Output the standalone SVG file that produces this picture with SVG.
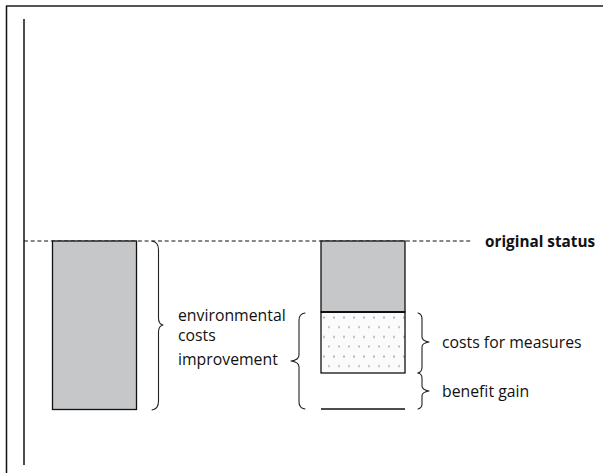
<svg xmlns="http://www.w3.org/2000/svg" width="603" height="473" viewBox="0 0 603 473">
  <defs>
    <style>
      .lbl { font-family: "Open Sans", "Liberation Sans", sans-serif; font-size: 15.8px; fill: #111; }
      .bold { font-weight: bold; font-size: 15.3px; }
      .bar { fill: #c6c7c9; stroke: #111; stroke-width: 1.3; }
      .brace { fill: none; stroke: #222; stroke-width: 1.1; stroke-linecap: round; stroke-linejoin: round; }
      .edge { fill: none; stroke: #111; }
    </style>
    <pattern id="dots" x="0" y="0" width="10" height="19.5" patternUnits="userSpaceOnUse">
      <circle cx="4" cy="5.5" r="1" fill="#aaaaaa"/>
      <circle cx="9" cy="15.2" r="1" fill="#aaaaaa"/>
    </pattern>
  </defs>

  <rect x="0" y="0" width="603" height="473" fill="#ffffff"/>

  <!-- frame -->
  <g id="frame">
    <line x1="6" y1="6" x2="603" y2="6" stroke="#555" stroke-width="2"/>
    <line x1="6.5" y1="6" x2="6.5" y2="473" stroke="#111" stroke-width="1.5"/>
  </g>

  <!-- axis and reference level -->
  <g id="connectors">
    <line class="edge" x1="24" y1="19" x2="24" y2="465" stroke-width="1.5"/>
    <line class="edge" x1="24" y1="241" x2="472" y2="241" stroke-width="1" stroke-dasharray="4,2.7"/>
  </g>

  <g id="original-status">
    <text class="lbl bold" x="485" y="246.5">original status</text>
  </g>

  <!-- left column -->
  <g id="bar-before">
    <rect class="bar" x="52.5" y="241" width="84" height="168.5"/>
  </g>

  <g id="brace-improvement">
    <path class="brace" d="M152,241 Q158.5,242 158.5,250 L158.5,318 Q158.5,324 163,325 Q158.5,326 158.5,332 L158.5,401 Q158.5,409 152,410"/>
    <text class="lbl" x="178" y="321">environmental</text>
    <text class="lbl" x="178" y="341">costs</text>
    <text class="lbl" x="178" y="365">improvement</text>
  </g>

  <!-- right column -->
  <g id="bar-after">
    <rect class="bar" x="321" y="241" width="84" height="71"/>
    <rect x="321" y="312" width="84" height="61" fill="#fbfbfb"/>
    <rect x="321" y="312" width="84" height="61" fill="url(#dots)"/>
    <rect x="321" y="312" width="84" height="61" fill="none" stroke="#111" stroke-width="1.3"/>
    <line x1="321" y1="312" x2="405" y2="312" stroke="#111" stroke-width="2.2"/>
    <line x1="321" y1="409" x2="405" y2="409" stroke="#111" stroke-width="1.3"/>
  </g>

  <g id="brace-left">
    <path class="brace" d="M305,313 Q299,314 299,320 L299,355 Q299,360 291,361 Q299,362 299,367 L299,402 Q299,408 305,409"/>
  </g>

  <g id="brace-costs">
    <path class="brace" d="M418,313 Q422,314 422,319 L422,337 Q422,341 429,342 Q422,343 422,347 L422,367 Q422,372 418,373"/>
    <text class="lbl" x="442" y="347.5">costs for measures</text>
  </g>

  <g id="brace-benefit">
    <path class="brace" d="M418,373 Q422,374 422,378 L422,386 Q422,390 429,391 Q422,392 422,396 L422,404 Q422,408 418,409"/>
    <text class="lbl" x="442" y="397">benefit gain</text>
  </g>
</svg>
